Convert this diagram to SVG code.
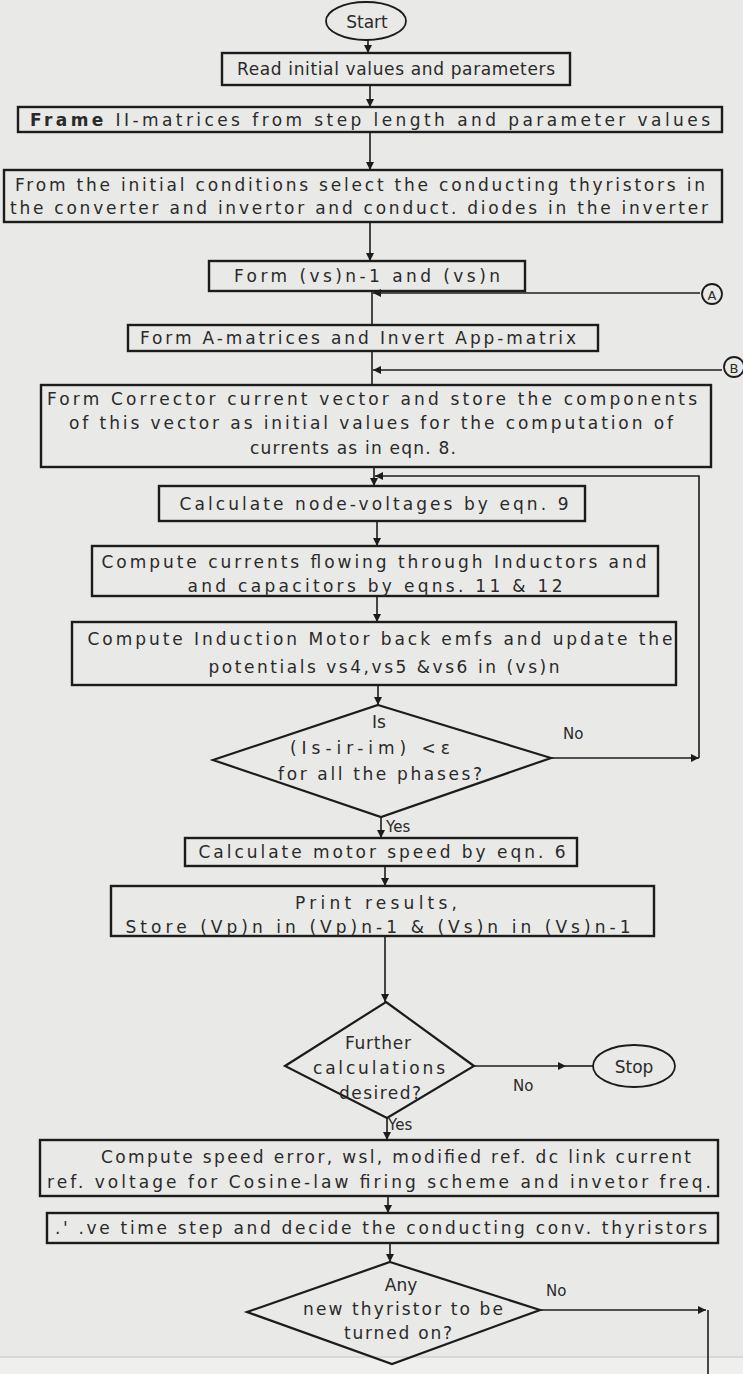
<svg xmlns="http://www.w3.org/2000/svg" width="743" height="1374" viewBox="0 0 743 1374">
  <style>
    .bg { fill: #e9e9e7; }
    .box { fill: none; stroke: #1c1c1c; stroke-width: 2.4; }
    .dec { fill: none; stroke: #1c1c1c; stroke-width: 2.2; stroke-linejoin: miter; }
    .term { fill: none; stroke: #1c1c1c; stroke-width: 1.8; }
    .conn { fill: none; stroke: #1c1c1c; stroke-width: 1.6; }
    .t { font-family: "DejaVu Sans", "Liberation Sans", sans-serif; font-size: 17px; fill: #2a2a2a; text-anchor: middle; dominant-baseline: central; }
    .lbl { font-family: "DejaVu Sans", "Liberation Sans", sans-serif; font-size: 15px; fill: #2a2a2a; dominant-baseline: central; }
    .b { font-weight: bold; }
  </style>
  <defs>
    <marker id="arrow" viewBox="0 0 10 10" refX="10" refY="5" markerWidth="8" markerHeight="8" markerUnits="userSpaceOnUse" orient="auto">
      <path d="M0,0 L10,5 L0,10 z" fill="#1c1c1c"/>
    </marker>
  </defs>

  <rect class="bg" x="0" y="0" width="743" height="1374"/>
  <rect x="0" y="1357" width="743" height="17" fill="#efefee"/>
  <line x1="0" y1="1357" x2="743" y2="1357" stroke="#d2d2d0" stroke-width="1.5"/>

  <!-- connectors -->
  <g id="connectors">
    <path class="conn" d="M368,40 V53" marker-end="url(#arrow)"/>
    <path class="conn" d="M370,85 V107" marker-end="url(#arrow)"/>
    <path class="conn" d="M370,132 V170" marker-end="url(#arrow)"/>
    <path class="conn" d="M370,222 V261" marker-end="url(#arrow)"/>
    <path class="conn" d="M372,291 V325"/>
    <path class="conn" d="M700,293 H373" marker-end="url(#arrow)"/>
    <path class="conn" d="M372,351 V385"/>
    <path class="conn" d="M722,370 H373" marker-end="url(#arrow)"/>
    <path class="conn" d="M374,467 V486" marker-end="url(#arrow)"/>
    <path class="conn" d="M699,758 V476 H375" marker-end="url(#arrow)"/>
    <path class="conn" d="M377,521 V546" marker-end="url(#arrow)"/>
    <path class="conn" d="M377,596 V622" marker-end="url(#arrow)"/>
    <path class="conn" d="M378,685 V705" marker-end="url(#arrow)"/>
    <path class="conn" d="M551,758 H699" marker-end="url(#arrow)"/>
    <path class="conn" d="M381,817 V838" marker-end="url(#arrow)"/>
    <path class="conn" d="M385,866 V886" marker-end="url(#arrow)"/>
    <path class="conn" d="M385,936 V1002" marker-end="url(#arrow)"/>
    <path class="conn" d="M474,1066 H566" marker-end="url(#arrow)"/>
    <path class="conn" d="M566,1066 H593"/>
    <path class="conn" d="M387,1118 V1140" marker-end="url(#arrow)"/>
    <path class="conn" d="M388,1196 V1213" marker-end="url(#arrow)"/>
    <path class="conn" d="M390,1243 V1262" marker-end="url(#arrow)"/>
    <path class="conn" d="M540,1310 H706" marker-end="url(#arrow)"/>
    <path class="conn" d="M708,1310 V1374"/>
    <text class="lbl" x="563" y="734">No</text>
    <text class="lbl" x="386" y="827">Yes</text>
    <text class="lbl" x="513" y="1086">No</text>
    <text class="lbl" x="388" y="1125">Yes</text>
    <text class="lbl" x="546" y="1291">No</text>
  </g>

  <g id="start">
    <ellipse class="term" cx="366" cy="21" rx="40" ry="19"/>
    <text class="t" x="367" y="22">Start</text>
  </g>

  <g id="read-init">
    <rect class="box" x="222" y="53" width="348" height="32"/>
    <text class="t" x="396" y="69" textLength="318" lengthAdjust="spacing">Read initial values and parameters</text>
  </g>

  <g id="form-b-matrices">
    <rect class="box" x="18" y="107" width="704" height="25"/>
    <text class="t" x="370" y="120" textLength="680" lengthAdjust="spacing"><tspan class="b">Frame</tspan> II-matrices from step length and parameter values</text>
  </g>

  <g id="select-thyristors">
    <rect class="box" x="4" y="170" width="718" height="52"/>
    <text class="t" x="360" y="185" textLength="690" lengthAdjust="spacing">From the initial conditions select the conducting thyristors in</text>
    <text class="t" x="359" y="208" textLength="698" lengthAdjust="spacing">the converter and invertor and conduct. diodes in the inverter</text>
  </g>

  <g id="form-vs">
    <rect class="box" x="209" y="261" width="316" height="30"/>
    <text class="t" x="367" y="276" textLength="266" lengthAdjust="spacing">Form (vs)n-1 and (vs)n</text>
  </g>

  <g id="connector-a">
    <circle class="term" cx="712" cy="294" r="10"/>
    <text class="t" x="712" y="295" style="font-size:13px">A</text>
  </g>

  <g id="form-a-matrices">
    <rect class="box" x="128" y="325" width="470" height="26"/>
    <text class="t" x="358" y="338" textLength="436" lengthAdjust="spacing">Form A-matrices and Invert App-matrix</text>
  </g>

  <g id="connector-b">
    <circle class="term" cx="734" cy="367" r="10"/>
    <text class="t" x="734" y="368" style="font-size:13px">B</text>
  </g>

  <g id="corrector-vector">
    <rect class="box" x="41" y="385" width="670" height="82"/>
    <text class="t" x="372" y="399" textLength="650" lengthAdjust="spacing">Form Corrector current vector and store the components</text>
    <text class="t" x="371" y="423" textLength="604" lengthAdjust="spacing">of this vector as initial values for the computation of</text>
    <text class="t" x="353" y="448" textLength="206" lengthAdjust="spacing">currents as in eqn. 8.</text>
  </g>

  <g id="node-voltages">
    <rect class="box" x="159" y="486" width="426" height="35"/>
    <text class="t" x="374" y="504" textLength="389" lengthAdjust="spacing">Calculate node-voltages by eqn. 9</text>
  </g>

  <g id="currents">
    <rect class="box" x="92" y="546" width="566" height="50"/>
    <text class="t" x="374" y="562" textLength="545" lengthAdjust="spacing">Compute currents flowing through Inductors and</text>
    <text class="t" x="375" y="586" textLength="375" lengthAdjust="spacing">and capacitors by eqns. 11 &amp; 12</text>
  </g>

  <g id="back-emf">
    <rect class="box" x="72" y="622" width="604" height="63"/>
    <text class="t" x="380" y="639" textLength="585" lengthAdjust="spacing">Compute Induction Motor back emfs and update the</text>
    <text class="t" x="384" y="667" textLength="351" lengthAdjust="spacing">potentials vs4,vs5 &amp;vs6 in (vs)n</text>
  </g>

  <g id="convergence-check">
    <path class="dec" d="M378,705 L551,758 L381,817 L213,760 Z"/>
    <text class="t" x="379" y="722">Is</text>
    <text class="t" x="370" y="748" textLength="160" lengthAdjust="spacing">(Is-ir-im) &lt;ε</text>
    <text class="t" x="380" y="774" textLength="204" lengthAdjust="spacing">for all the phases?</text>
  </g>

  <g id="motor-speed">
    <rect class="box" x="185" y="838" width="392" height="28"/>
    <text class="t" x="382" y="852" textLength="367" lengthAdjust="spacing">Calculate motor speed by eqn. 6</text>
  </g>

  <g id="print-results">
    <rect class="box" x="111" y="886" width="543" height="50"/>
    <text class="t" x="376" y="903" textLength="162" lengthAdjust="spacing">Print results,</text>
    <text class="t" x="378" y="927" textLength="505" lengthAdjust="spacing">Store (Vp)n in (Vp)n-1 &amp; (Vs)n in (Vs)n-1</text>
  </g>

  <g id="further-check">
    <path class="dec" d="M386,1002 L474,1066 L387,1118 L285,1066 Z"/>
    <text class="t" x="378" y="1043" textLength="66" lengthAdjust="spacing">Further</text>
    <text class="t" x="379" y="1068" textLength="132" lengthAdjust="spacing">calculations</text>
    <text class="t" x="380" y="1093" textLength="82" lengthAdjust="spacing">desired?</text>
  </g>

  <g id="stop">
    <ellipse class="term" cx="634" cy="1066" rx="41" ry="21"/>
    <text class="t" x="634" y="1067">Stop</text>
  </g>

  <g id="speed-error">
    <rect class="box" x="40" y="1140" width="678" height="56"/>
    <text class="t" x="396" y="1157" textLength="590" lengthAdjust="spacing">Compute speed error, wsl, modified ref. dc link current</text>
    <text class="t" x="379" y="1182" textLength="664" lengthAdjust="spacing">ref. voltage for Cosine-law firing scheme and invetor freq.</text>
  </g>

  <g id="time-step">
    <rect class="box" x="47" y="1213" width="671" height="30"/>
    <text class="t" x="381" y="1228" textLength="652" lengthAdjust="spacing">.' .ve time step and decide the conducting conv. thyristors</text>
  </g>

  <g id="new-thyristor-check">
    <path class="dec" d="M390,1262 L540,1310 L392,1364 L247,1312 Z"/>
    <text class="t" x="401" y="1285">Any</text>
    <text class="t" x="403" y="1309" textLength="200" lengthAdjust="spacing">new thyristor to be</text>
    <text class="t" x="398" y="1333" textLength="108" lengthAdjust="spacing">turned on?</text>
  </g>
</svg>
